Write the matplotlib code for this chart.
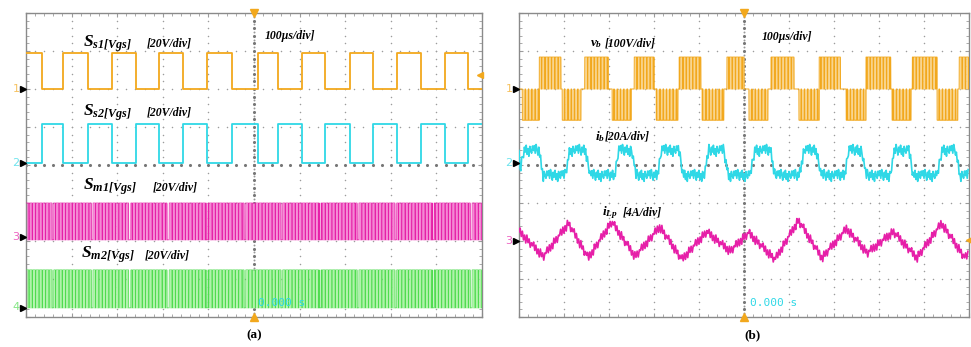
import numpy as np
import matplotlib.pyplot as plt

plt.rcParams['mathtext.fontset'] = 'custom'
plt.rcParams['mathtext.rm'] = 'Liberation Serif:bold:italic'
plt.rcParams['mathtext.it'] = 'Liberation Serif:bold:italic'
plt.rcParams['mathtext.bf'] = 'Liberation Serif:bold:italic'

ORANGE = '#f2a81d'
ORANGE_PALE = '#f9d58e'
CYAN = '#2fd8e6'
MAGENTA = '#e61fa8'
MAGENTA_PALE = '#f488d4'
GREEN = '#4fdc4f'
GREEN_PALE = '#b0f3aa'
GRID = '#9c9c9c'

# time axis in us (100 us/div, 10 div), vertical axis in div (8 div)
T_END = 1000.0

# ---- (a) gate signals ----
ss_fall = [34, 137, 241, 344, 452, 553, 656, 760, 866, 970]
ss_rise = [82, 188, 292, 396, 509, 605, 711, 813, 919]
ss1_low, ss1_high = 2.0, 2.95
ss2_low, ss2_high = 0.05, 1.08
sm_gaps = [59, 145, 228, 311, 397, 480, 561, 645, 728, 811, 893, 976]
sm1_low, sm1_high = -1.97, -1.0
sm2_low, sm2_high = -3.76, -2.76
pwm_period = 7.3   # us
pwm_off = 1.2      # us

# ---- (b) bridge voltage, bridge current, inductor current ----
vb_pos = [(45, 93), (145, 198), (256, 300), (356, 404), (462, 500),
          (560, 611), (667, 715), (771, 826), (874, 931), (978, 1000)]
vb_neg = [(7, 45), (96, 138), (207, 249), (305, 353), (407, 455),
          (511, 553), (622, 667), (727, 771), (829, 871), (929, 975)]
vb_zero, vb_top, vb_bottom = 2.0, 2.84, 1.18

ib_humps = [(7, 47), (109, 151), (218, 253), (313, 358), (418, 458),
            (520, 562), (629, 664), (729, 764), (831, 869), (936, 973)]
ib_high, ib_low = 0.38, -0.28
ib_ripple = [0.00, 0.13, -0.07, 0.16, 0.03, -0.12, 0.09, -0.04,
             0.14, -0.10, 0.05, -0.15, 0.11, 0.00, -0.07, 0.12]

ilp_t = [0, 54, 110, 154, 206, 258, 313, 362, 417, 469, 510,
         569, 621, 673, 728, 774, 832, 884, 939, 991, 1000]
ilp_v = [-1.76, -2.42, -1.55, -2.46, -1.51, -2.42, -1.64, -2.50, -1.77, -2.28, -1.80,
         -2.50, -1.47, -2.46, -1.69, -2.33, -1.77, -2.46, -1.55, -2.46, -2.35]
ilp_ripple = [0.00, 0.13, -0.06, 0.11, -0.09, 0.07, -0.11, 0.13,
              -0.04, 0.09, -0.10, 0.05]


def square(edges_down, edges_up, low, high):
    edges = sorted([(e, low) for e in edges_down] + [(e, high) for e in edges_up])
    t, y = [0.0], [high if edges[0][1] == low else low]
    for e, lvl in edges:
        t += [e, e]
        y += [y[-1], lvl]
    t.append(T_END)
    y.append(y[-1])
    return np.array(t), np.array(y)


def pwm_band(ax, gaps, low, high, color, pale):
    t = np.arange(0, T_END, 0.1)
    on = (t % pwm_period) < (pwm_period - pwm_off)
    for g in gaps:
        on &= np.abs(t - g) > 1.8
    y = np.where(on, high, low)
    ax.fill_between(t, low, y, color=pale, lw=0, zorder=2)
    ax.plot(t, y, color=color, lw=0.5, zorder=3)


def draw_grid(ax):
    minor_x = np.arange(0, T_END + 1, 20)
    minor_y = np.arange(-4, 4.01, 0.2)
    for gx in range(100, 1000, 100):
        if gx == 500:
            continue
        ax.scatter(np.full(minor_y.size, gx), minor_y, s=1.2, color=GRID, lw=0, zorder=1)
    for gy in [-3, -2, -1, 1, 2, 3]:
        ax.scatter(minor_x, np.full(minor_x.size, gy), s=1.2, color=GRID, lw=0, zorder=1)
    # centre cross with finer ticks
    cy = np.arange(-4, 4.01, 0.2)
    ax.scatter(np.full(cy.size, 500), cy, s=5, color='#777777', lw=0, zorder=1)
    ax.scatter(np.full(cy.size, 500), cy + 0.1, s=2, color='#999999', lw=0, zorder=1)
    cx = np.arange(0, T_END + 1, 20)
    ax.scatter(cx, np.zeros(cx.size), s=5, color='#777777', lw=0, zorder=1)
    ax.set_xlim(0, T_END)
    ax.set_ylim(-4, 4)
    ax.set_xticks(np.arange(0, T_END + 1, 100))
    ax.set_xticks(np.arange(0, T_END + 1, 20), minor=True)
    ax.set_yticks(np.arange(-4, 4.1, 1))
    ax.set_yticks(np.arange(-4, 4.1, 0.2), minor=True)
    ax.tick_params(which='both', direction='in', top=True, right=True,
                   labelbottom=False, labelleft=False, color=GRID)
    ax.tick_params(which='major', length=3)
    ax.tick_params(which='minor', length=2)
    for sp in ax.spines.values():
        sp.set_color('#8a8a8a')
        sp.set_linewidth(1.0)
    # trigger markers
    ax.plot(500, 4, marker='v', color=ORANGE, ms=6, clip_on=False, zorder=6)
    ax.plot(500, -4, marker='^', color=ORANGE, ms=6, clip_on=False, zorder=6)


def channel_mark(ax, y, num, color):
    tr = ax.get_yaxis_transform()
    ax.plot(-0.006, y, marker='>', color='black', ms=4.5, clip_on=False, transform=tr, zorder=6)
    ax.text(-0.022, y, num, color=color, fontsize=8, ha='center', va='center',
            transform=tr, alpha=0.7)


def label(ax, x, y, s, size=8.5):
    ax.text(x, y, s, fontsize=size, family='Liberation Serif', weight='bold',
            style='italic', va='center', ha='left', zorder=7)


fig = plt.figure(figsize=(9.71, 3.47), dpi=100)
ax_a = fig.add_axes([26 / 971, 1 - 317 / 347, 456 / 971, 304 / 347])
ax_b = fig.add_axes([519 / 971, 1 - 317 / 347, 450 / 971, 304 / 347])

# ---------- (a) ----------
draw_grid(ax_a)
t, y = square(ss_fall, ss_rise, ss1_low, ss1_high)
ax_a.plot(t, y, color=ORANGE, lw=1.3, zorder=3)
t, y = square(ss_rise, ss_fall, ss2_low, ss2_high)
ax_a.plot(t, y, color=CYAN, lw=1.3, zorder=3)
pwm_band(ax_a, sm_gaps, sm1_low, sm1_high, MAGENTA, MAGENTA_PALE)
pwm_band(ax_a, sm_gaps, sm2_low, sm2_high, GREEN, GREEN_PALE)

channel_mark(ax_a, 2.0, '1', ORANGE)
channel_mark(ax_a, 0.05, '2', CYAN)
channel_mark(ax_a, -1.9, '3', MAGENTA)
channel_mark(ax_a, -3.75, '4', GREEN)
ax_a.plot(0.995, 2.37, marker='<', color=ORANGE, ms=5, transform=ax_a.get_yaxis_transform(),
          clip_on=False, zorder=6)

ax_a.text(125, 3.2, r'$S_{s1[Vgs]}$', fontsize=12.5, va='center', zorder=7)
label(ax_a, 265, 3.2, '[20V/div]')
label(ax_a, 524, 3.4, '100\u00b5s/div]')
ax_a.text(125, 1.37, r'$S_{s2[Vgs]}$', fontsize=12.5, va='center', zorder=7)
label(ax_a, 265, 1.37, '[20V/div]')
ax_a.text(125, -0.58, r'$S_{m1[Vgs]}$', fontsize=12.5, va='center', zorder=7)
label(ax_a, 278, -0.58, '[20V/div]')
ax_a.text(121, -2.37, r'$S_{m2[Vgs]}$', fontsize=12.5, va='center', zorder=7)
label(ax_a, 261, -2.37, '[20V/div]')
ax_a.text(509, -3.63, '0.000 s', color=CYAN, fontsize=8, family='DejaVu Sans Mono',
          va='center', zorder=5)

# ---------- (b) ----------
draw_grid(ax_b)
tb = np.arange(0, T_END, 0.1)
vb = np.full(tb.size, vb_zero)
for s, e in vb_pos:
    m = (tb >= s) & (tb < e) & ((tb % pwm_period) < (pwm_period - pwm_off))
    vb[m] = vb_top
for s, e in vb_neg:
    m = (tb >= s) & (tb < e) & ((tb % pwm_period) < (pwm_period - pwm_off))
    vb[m] = vb_bottom
ax_b.fill_between(tb, vb_zero, vb, color=ORANGE_PALE, lw=0, zorder=2)
ax_b.plot(tb, vb, color=ORANGE, lw=0.7, zorder=3)

ib_t, ib_v = [0.0], [ib_high]
for s, e in ib_humps:
    ib_t += [s - 6, s + 4, e - 3, e + 7]
    ib_v += [ib_low, ib_high, ib_high, ib_low]
ib_t.append(T_END)
ib_v.append(ib_low)
order = np.argsort(ib_t)
ib_t = np.array(ib_t)[order]
ib_v = np.array(ib_v)[order]
t_fine = np.arange(0, T_END, 2.0)
ib_line = np.interp(t_fine, ib_t, ib_v) + np.resize(ib_ripple, t_fine.size)
ax_b.plot(t_fine, ib_line, color=CYAN, lw=1.2, zorder=3)

t_l = np.arange(0, T_END, 2.5)
ilp_line = np.interp(t_l, ilp_t, ilp_v) + np.resize(ilp_ripple, t_l.size)
ax_b.plot(t_l, ilp_line, color=MAGENTA, lw=1.2, zorder=3)

channel_mark(ax_b, 2.0, '1', ORANGE)
channel_mark(ax_b, 0.05, '2', CYAN)
channel_mark(ax_b, -2.0, '3', MAGENTA)
ax_b.plot(1.0, -1.97, marker='<', color=ORANGE, ms=5, transform=ax_b.get_yaxis_transform(),
          clip_on=False, zorder=6)

ax_b.text(158, 3.2, r'$v_b$', fontsize=9.5, va='center', zorder=7)
label(ax_b, 191, 3.2, '[100V/div]')
label(ax_b, 540, 3.37, '100\u00b5s/div]')
ax_b.text(169, 0.74, r'$i_b$', fontsize=9.5, va='center', zorder=7)
label(ax_b, 191, 0.74, '[20A/div]')
ax_b.text(184, -1.26, r'$i_{Lp}$', fontsize=9.5, va='center', zorder=7)
label(ax_b, 231, -1.26, '[4A/div]')
ax_b.text(513, -3.63, '0.000 s', color=CYAN, fontsize=8, family='DejaVu Sans Mono',
          va='center', zorder=5)

fig.text(254 / 971, 1 - 335 / 347, '(a)', ha='center', va='center', fontsize=9.5,
         family='Liberation Serif', weight='bold')
fig.text(752 / 971, 1 - 335 / 347, '(b)', ha='center', va='center', fontsize=9.5,
         family='Liberation Serif', weight='bold')

fig.savefig('out.png', dpi=100)
